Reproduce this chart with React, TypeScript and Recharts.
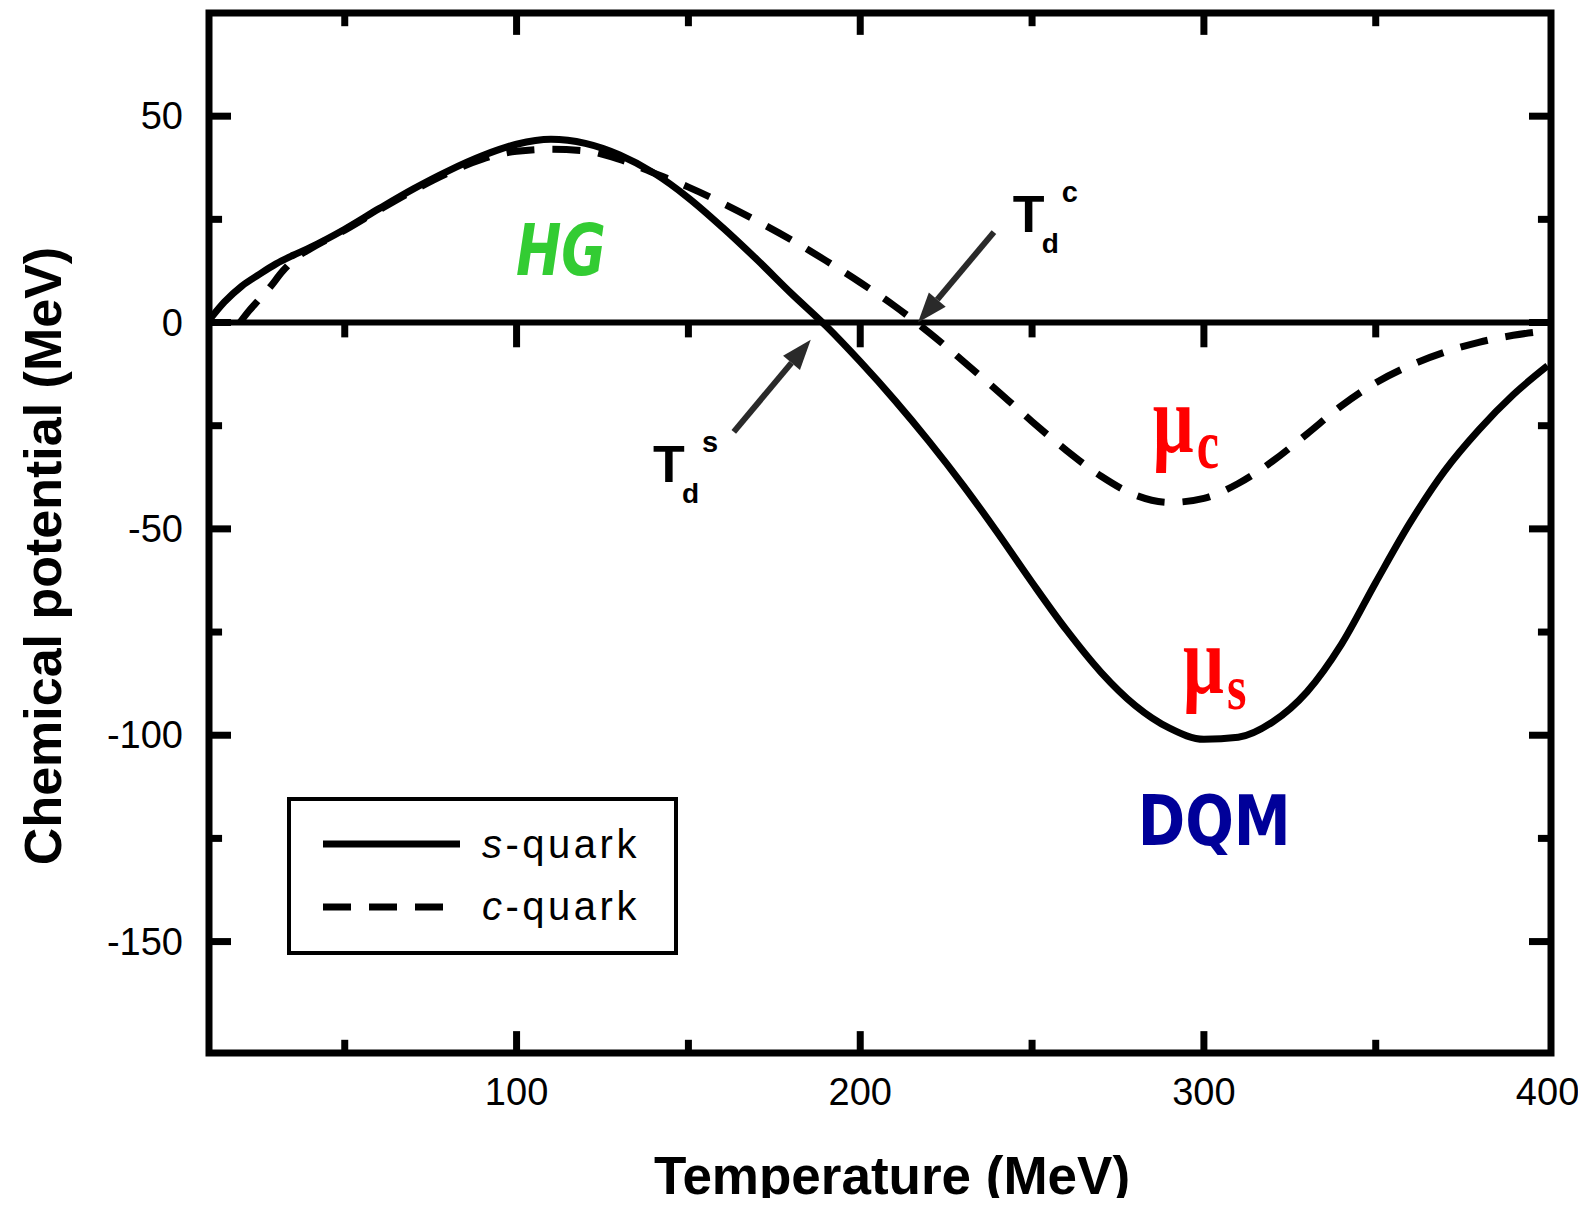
// Chemical potential of s- and c-quarks vs temperature
import {
  LineChart,
  Line,
  XAxis,
  YAxis,
  ReferenceLine,
  ReferenceArea,
  ReferenceDot,
  Legend,
  Label,
} from 'recharts'

// s-quark curve (solid)
const sTemp = [10, 15, 20, 25, 30, 35, 40, 50, 60, 70, 80, 90, 100, 110, 120, 130, 140, 150, 160, 170, 180, 190, 200, 210, 220, 230, 240, 250, 260, 270, 280, 290, 300, 310, 320, 330, 340, 350, 360, 370, 380, 390, 400]
const sMu = [0, 5, 8.8, 11.6, 14.2, 16.3, 18.2, 22.6, 27.6, 32.4, 36.7, 40.4, 43.2, 44.4, 43.4, 40.6, 36.2, 30.2, 23, 15.2, 7, -0.8, -9.5, -18.8, -28.8, -39.5, -51, -63, -74.5, -84.7, -92.8, -98.3, -101, -100.5, -96.8, -89.5, -78, -63, -48.5, -36, -26, -17.5, -10.5]

// c-quark curve (dashed)
const cTemp = [19.5, 22, 25, 28, 32, 36, 40, 50, 60, 70, 80, 90, 100, 110, 120, 130, 140, 150, 160, 170, 180, 190, 200, 210, 220, 230, 240, 250, 260, 270, 280, 290, 300, 310, 320, 330, 340, 350, 360, 370, 380, 390, 400]
const cMu = [0, 2.7, 5.5, 8.3, 12.5, 15.8, 17.9, 22.4, 27.3, 32, 36.2, 39.6, 41.5, 42, 41.6, 39.5, 36.2, 32.8, 28.9, 24.6, 20, 15, 9.7, 4, -2.4, -9.4, -16.6, -24, -31, -37.2, -41.8, -43.6, -42.6, -39, -33.6, -27, -20.2, -14.6, -10.4, -7.2, -4.8, -3.1, -2]

// axis ticks
const xLabels = [100, 200, 300, 400]
const xMajor = [100, 200, 300]
const xMinor = [50, 150, 250, 350]
const yLabels = [50, 0, -50, -100, -150]
const yMajor = [50, 0, -50, -100, -150]
const yMinor = [25, -25, -75, -125]

const X_MIN = 10.5
const X_MAX = 401
const Y_MIN = -177
const Y_MAX = 75

// tick lengths in data units
const XT_MAJOR = 5.3
const XT_MINOR = 3.2
const YT_MAJOR = 6.4
const YT_MINOR = 3.8
const ZT_MAJOR = 6
const ZT_MINOR = 3.6

const sData = sTemp.map((t, i) => ({ t, mu: sMu[i] }))
const cData = cTemp.map((t, i) => ({ t, mu: cMu[i] }))

const SANS = '"Liberation Sans", Arial, sans-serif'
const SERIF = '"Liberation Serif", "Times New Roman", serif'
const ARROW = '#2a2a2a'

const XTick = (props: any) => {
  const { x, y, payload } = props
  return (
    <text x={x} y={y + 52} textAnchor="middle" fontFamily={SANS} fontSize={38} fill="#000">
      {payload.value}
    </text>
  )
}

const YTick = (props: any) => {
  const { x, y, payload } = props
  return (
    <text x={x - 26} y={y + 13} textAnchor="end" fontFamily={SANS} fontSize={38} fill="#000">
      {payload.value}
    </text>
  )
}

const Arrow = (props: any) => {
  const { x1, y1, x2, y2 } = props
  const dx = x2 - x1
  const dy = y2 - y1
  const len = Math.hypot(dx, dy)
  const ux = dx / len
  const uy = dy / len
  const head = 30
  const half = 11
  const bx = x2 - ux * head
  const by = y2 - uy * head
  return (
    <g>
      <line x1={x1} y1={y1} x2={bx} y2={by} stroke={ARROW} strokeWidth={6} />
      <polygon
        points={`${x2},${y2} ${bx - uy * half},${by + ux * half} ${bx + uy * half},${by - ux * half}`}
        fill={ARROW}
      />
    </g>
  )
}

const TdLabel = (sup: string) => (p: any) => (
  <g fontFamily={SANS} fontWeight="bold" fill="#000">
    <text x={p.cx} y={p.cy} fontSize={52}>T</text>
    <text x={p.cx + 29} y={p.cy + 21} fontSize={28}>d</text>
    <text x={p.cx + 49} y={p.cy - 30} fontSize={29}>{sup}</text>
  </g>
)

const MuLabel = (sub: string, subScale: number) => (p: any) => (
  <g fontFamily={SERIF} fontWeight="bold" fill="#ff0000">
    <text transform={`translate(${p.cx},${p.cy}) scale(1,1.35)`} fontSize={72}>μ</text>
    <text transform={`translate(${p.cx + 44},${p.cy + 16}) scale(1,${subScale})`} fontSize={50}>{sub}</text>
  </g>
)

const LegendBox = () => (
  <div style={{ width: 391, height: 158, border: '4px solid #000', boxSizing: 'border-box', background: '#fff' }}>
    <svg width={383} height={150} style={{ display: 'block' }}>
      <line x1={32} y1={43} x2={169} y2={43} stroke="#000" strokeWidth={7} />
      <line x1={32} y1={106} x2={152} y2={106} stroke="#000" strokeWidth={7} strokeDasharray="28 18" />
      <text x={191} y={57} fontFamily={SANS} fontSize={40} letterSpacing={3.5} fill="#000">
        <tspan fontStyle="italic">s</tspan>-quark
      </text>
      <text x={191} y={119} fontFamily={SANS} fontSize={40} letterSpacing={3.5} fill="#000">
        <tspan fontStyle="italic">c</tspan>-quark
      </text>
    </svg>
  </div>
)

export default function App() {
  return (
    <div>
      <style>{'body{overflow:hidden} .recharts-surface{overflow:visible}'}</style>
      <LineChart width={1570} height={1190} margin={{ top: 5, right: 27, bottom: 85, left: 121 }}>
        <XAxis
          dataKey="t"
          type="number"
          domain={[X_MIN, X_MAX]}
          allowDataOverflow
          ticks={xLabels}
          interval={0}
          height={60}
          tickSize={0}
          tickMargin={0}
          tickLine={false}
          axisLine={false}
          tick={<XTick />}
        >
          <Label
            content={(p: any) => (
              <text
                x={p.viewBox.x + p.viewBox.width / 2 + 12}
                y={p.viewBox.y + 141}
                textAnchor="middle"
                fontFamily={SANS}
                fontWeight="bold"
                fontSize={53}
                fill="#000"
              >
                Temperature (MeV)
              </text>
            )}
          />
        </XAxis>
        <YAxis
          type="number"
          domain={[Y_MIN, Y_MAX]}
          allowDataOverflow
          ticks={yLabels}
          interval={0}
          width={80}
          tickSize={0}
          tickMargin={0}
          tickLine={false}
          axisLine={false}
          tick={<YTick />}
        >
          <Label
            content={(p: any) => {
              const cx = p.viewBox.x - 68
              const cy = p.viewBox.y + p.viewBox.height / 2 + 23
              return (
                <text
                  x={cx}
                  y={cy}
                  transform={`rotate(-90 ${cx} ${cy})`}
                  textAnchor="middle"
                  fontFamily={SANS}
                  fontWeight="bold"
                  fontSize={52}
                  fill="#000"
                >
                  Chemical potential (MeV)
                </text>
              )
            }}
          />
        </YAxis>

        {/* frame */}
        <ReferenceArea x1={X_MIN} x2={X_MAX} y1={Y_MIN} y2={Y_MAX} fill="none" fillOpacity={0} stroke="#000" strokeWidth={7} />

        {/* inward ticks on all four sides */}
        {[...xMajor.map((t) => [t, XT_MAJOR]), ...xMinor.map((t) => [t, XT_MINOR])].map(([t, l]) => (
          <ReferenceLine key={`b${t}`} segment={[{ x: t, y: Y_MIN }, { x: t, y: Y_MIN + l }]} stroke="#000" strokeWidth={7} />
        ))}
        {[...xMajor.map((t) => [t, XT_MAJOR]), ...xMinor.map((t) => [t, XT_MINOR])].map(([t, l]) => (
          <ReferenceLine key={`t${t}`} segment={[{ x: t, y: Y_MAX }, { x: t, y: Y_MAX - l }]} stroke="#000" strokeWidth={7} />
        ))}
        {[...yMajor.map((v) => [v, YT_MAJOR]), ...yMinor.map((v) => [v, YT_MINOR])].map(([v, l]) => (
          <ReferenceLine key={`l${v}`} segment={[{ x: X_MIN, y: v }, { x: X_MIN + l, y: v }]} stroke="#000" strokeWidth={7} />
        ))}
        {[...yMajor.map((v) => [v, YT_MAJOR]), ...yMinor.map((v) => [v, YT_MINOR])].map(([v, l]) => (
          <ReferenceLine key={`r${v}`} segment={[{ x: X_MAX, y: v }, { x: X_MAX - l, y: v }]} stroke="#000" strokeWidth={7} />
        ))}

        {/* zero line with its own ticks */}
        <ReferenceLine y={0} stroke="#000" strokeWidth={6} />
        {[...xMajor.map((t) => [t, ZT_MAJOR]), ...xMinor.map((t) => [t, ZT_MINOR])].map(([t, l]) => (
          <ReferenceLine key={`z${t}`} segment={[{ x: t, y: 0 }, { x: t, y: -l }]} stroke="#000" strokeWidth={7} />
        ))}

        <Line
          data={sData}
          dataKey="mu"
          name="s-quark"
          type="monotone"
          stroke="#000"
          strokeWidth={7}
          dot={false}
          activeDot={false}
          isAnimationActive={false}
        />
        <Line
          data={cData}
          dataKey="mu"
          name="c-quark"
          type="monotone"
          stroke="#000"
          strokeWidth={7}
          strokeDasharray="28 18"
          dot={false}
          activeDot={false}
          isAnimationActive={false}
        />

        {/* annotations */}
        <ReferenceLine segment={[{ x: 238.9, y: 21.9 }, { x: 216.8, y: 0 }]} shape={Arrow} />
        <ReferenceLine segment={[{ x: 163.2, y: -26.5 }, { x: 185.6, y: -4.2 }]} shape={Arrow} />
        <ReferenceDot x={244.4} y={21.9} r={0} shape={TdLabel('c')} />
        <ReferenceDot x={139.7} y={-38.6} r={0} shape={TdLabel('s')} />
        <ReferenceDot
          x={112.9}
          y={11.5}
          r={0}
          shape={(p: any) => (
            <text
              x={p.cx}
              y={p.cy}
              textAnchor="middle"
              fontFamily='"DejaVu Sans", sans-serif'
              fontWeight="bold"
              fontStyle="italic"
              fontSize={72}
              textLength={90}
              lengthAdjust="spacingAndGlyphs"
              fill="#33cc33"
            >
              HG
            </text>
          )}
        />
        <ReferenceDot
          x={303}
          y={-126.5}
          r={0}
          shape={(p: any) => (
            <text
              x={p.cx}
              y={p.cy}
              textAnchor="middle"
              fontFamily='"DejaVu Sans", sans-serif'
              fontWeight="bold"
              fontSize={69}
              textLength={153}
              lengthAdjust="spacingAndGlyphs"
              fill="#000099"
            >
              DQM
            </text>
          )}
        />
        <ReferenceDot x={285.1} y={-31.4} r={0} shape={MuLabel('c', 1.4)} />
        <ReferenceDot x={293.9} y={-89.7} r={0} shape={MuLabel('s', 1.25)} />

        <Legend
          layout="vertical"
          align="center"
          verticalAlign="middle"
          wrapperStyle={{ left: 279, top: 789, width: 391, height: 158 }}
          content={<LegendBox />}
        />
      </LineChart>
    </div>
  )
}
